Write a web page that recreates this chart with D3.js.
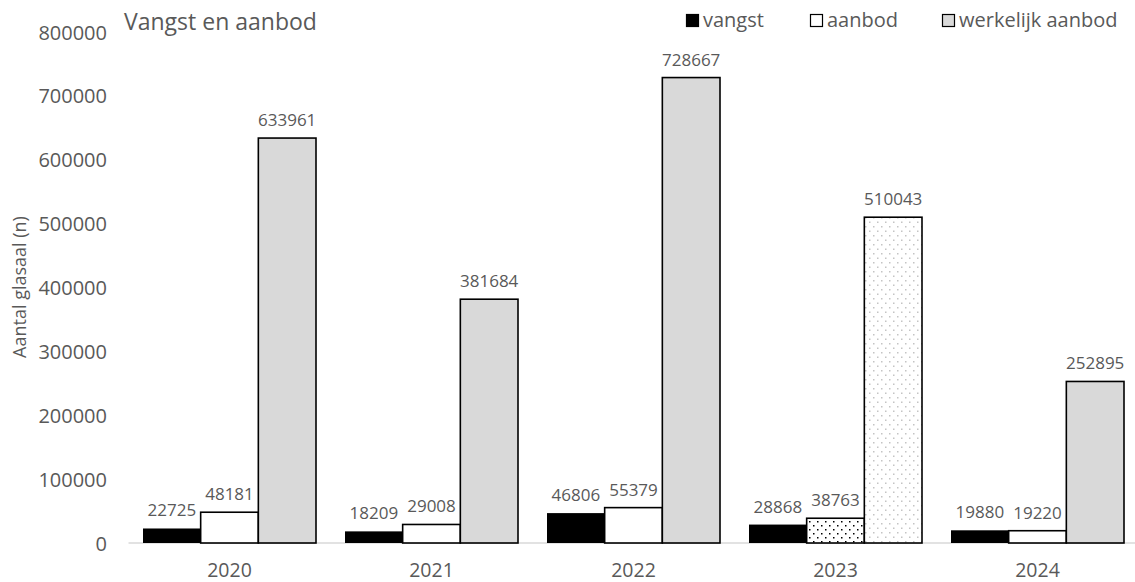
<!DOCTYPE html>
<html>
<head>
<meta charset="utf-8">
<script src="https://cdn.jsdelivr.net/npm/d3@7"></script>
<style>
  html, body { margin: 0; padding: 0; background: #fff; }
  svg text { font-family: "Open Sans", "Noto Sans", sans-serif; fill: #595959; }
</style>
</head>
<body>
<svg id="chart" width="1135" height="582"></svg>
<script>
// Glass eel catch and supply per year
const years = ["2020", "2021", "2022", "2023", "2024"];
const vangst = [22725, 18209, 46806, 28868, 19880];
const aanbod = [48181, 29008, 55379, 38763, 19220];
const werkelijkAanbod = [633961, 381684, 728667, 510043, 252895];
const yTicks = [0, 100000, 200000, 300000, 400000, 500000, 600000, 700000, 800000];
const seriesNames = ["vangst", "aanbod", "werkelijk aanbod"];
// years whose supply figures are shown dotted (estimated)
const hatchedYears = ["2023"];

const seriesValues = [vangst, aanbod, werkelijkAanbod];
const fills = ["#000000", "#ffffff", "#d9d9d9"];
const hatchFills = ["#000000", "url(#dotsDense)", "url(#dotsSparse)"];

const svg = d3.select("#chart");

const defs = svg.append("defs");
// dense black dots
const p1 = defs.append("pattern").attr("id", "dotsDense")
  .attr("patternUnits", "userSpaceOnUse").attr("width", 8).attr("height", 8);
p1.append("rect").attr("width", 8).attr("height", 8).attr("fill", "#fff");
p1.append("rect").attr("x", 1).attr("y", 1).attr("width", 1.5).attr("height", 1.5).attr("fill", "#000");
p1.append("rect").attr("x", 5).attr("y", 5).attr("width", 1.5).attr("height", 1.5).attr("fill", "#000");
// sparse light dots
const p2 = defs.append("pattern").attr("id", "dotsSparse")
  .attr("patternUnits", "userSpaceOnUse").attr("width", 8).attr("height", 9);
p2.append("rect").attr("width", 8).attr("height", 9).attr("fill", "#fff");
p2.append("rect").attr("x", 1).attr("y", 1).attr("width", 1.5).attr("height", 1.5).attr("fill", "#c4c4c4");
p2.append("rect").attr("x", 5).attr("y", 5.5).attr("width", 1.5).attr("height", 1.5).attr("fill", "#c4c4c4");

const x = d3.scaleBand().domain(years).range([128.5, 1138.5]);
const xInner = d3.scaleBand().domain(seriesNames).range([14.5, 187.5]);
const y = d3.scaleLinear().domain([0, 800000]).range([543, 32]);

// baseline
svg.append("line")
  .attr("x1", 128.5).attr("x2", 1135)
  .attr("y1", y(0)).attr("y2", y(0))
  .attr("stroke", "#d9d9d9").attr("stroke-width", 1.5);

// y axis labels
const yAxis = d3.axisLeft(y).tickValues(yTicks).tickSize(0).tickPadding(0).tickFormat(d3.format("d"));
const yg = svg.append("g").attr("transform", "translate(107,0)").call(yAxis);
yg.select(".domain").remove();
yg.selectAll("text").style("font-size", "20px").attr("fill", "#595959").attr("dy", "0.35em");

// x axis labels
const xAxis = d3.axisBottom(x).tickSize(0).tickPadding(0);
const xg = svg.append("g").attr("transform", "translate(0,563)").call(xAxis);
xg.select(".domain").remove();
xg.selectAll("text").style("font-size", "19.5px").attr("fill", "#595959").attr("dy", "0.71em");

// y axis title
svg.append("text")
  .attr("transform", "translate(26,287) rotate(-90)")
  .attr("text-anchor", "middle")
  .style("font-size", "18px")
  .text("Aantal glasaal (n)");

// chart title
svg.append("text")
  .attr("x", 124).attr("y", 30)
  .style("font-size", "23px")
  .text("Vangst en aanbod");

// bars
const rows = [];
years.forEach((yr, i) => {
  seriesNames.forEach((s, j) => {
    rows.push({ year: yr, series: s, j: j, value: seriesValues[j][i] });
  });
});

svg.append("g").selectAll("rect").data(rows).join("rect")
  .attr("x", d => x(d.year) + xInner(d.series))
  .attr("width", xInner.bandwidth())
  .attr("y", d => y(d.value))
  .attr("height", d => y(0) - y(d.value))
  .attr("fill", d => hatchedYears.includes(d.year) ? hatchFills[d.j] : fills[d.j])
  .attr("stroke", "#000")
  .attr("stroke-width", d => d.j === 0 ? 0 : 1.6);

// value labels
svg.append("g").selectAll("text").data(rows).join("text")
  .attr("x", d => x(d.year) + xInner(d.series) + xInner.bandwidth() / 2)
  .attr("y", d => y(d.value) - 12)
  .attr("text-anchor", "middle")
  .style("font-size", "17px")
  .attr("fill", "#404040")
  .text(d => d.value);

// legend
const legendPos = { "vangst": 686, "aanbod": 810, "werkelijk aanbod": 942 };
const lg = svg.append("g");
seriesNames.forEach((s, j) => {
  const lx = legendPos[s];
  lg.append("rect")
    .attr("x", lx + 0.5).attr("y", 14.5).attr("width", 12).attr("height", 12)
    .attr("fill", fills[j]).attr("stroke", "#000").attr("stroke-width", 1.2);
  lg.append("text")
    .attr("x", lx + 17).attr("y", 27)
    .style("font-size", "20px")
    .text(s);
});
</script>
</body>
</html>
